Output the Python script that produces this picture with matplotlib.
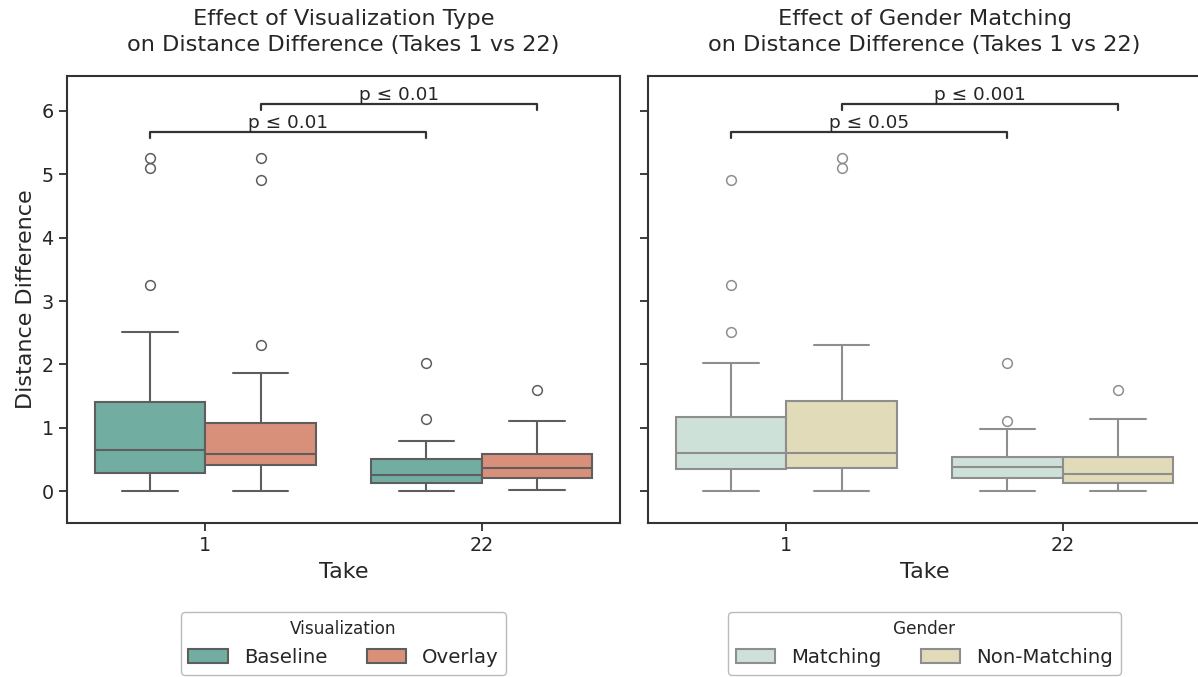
import matplotlib
matplotlib.use("Agg")
import matplotlib.pyplot as plt
from matplotlib.patches import Patch
import seaborn as sns

sns.set_theme(style="ticks")
plt.rcParams['font.family'] = ['DejaVu Sans']

takes = ["1", "22"]

# box stats: [q1, median, q3, whisker low, whisker high]
baseline_stats = [[0.295, 0.646, 1.41, 0.0, 2.51], [0.126, 0.257, 0.504, 0.0, 0.80]]
baseline_fliers = [[5.25, 5.10, 3.25], [2.03, 1.14]]
overlay_stats = [[0.41, 0.594, 1.08, 0.0, 1.87], [0.215, 0.368, 0.594, 0.02, 1.11]]
overlay_fliers = [[5.26, 4.91, 2.31], [1.59]]

matching_stats = [[0.352, 0.604, 1.17, 0.0, 2.02], [0.205, 0.383, 0.546, 0.0, 0.98]]
matching_fliers = [[4.91, 3.25, 2.51], [2.03, 1.11]]
nonmatching_stats = [[0.373, 0.61, 1.42, 0.0, 2.31], [0.137, 0.273, 0.546, 0.0, 1.135]]
nonmatching_fliers = [[5.25, 5.10], [1.59]]

vis_labels = ["Baseline", "Overlay"]
gender_labels = ["Matching", "Non-Matching"]

# significance brackets: (x start, x end, height, label)
vis_brackets = [(-0.2, 0.8, 5.66, "p \u2264 0.01"), (0.2, 1.2, 6.10, "p \u2264 0.01")]
gender_brackets = [(-0.2, 0.8, 5.66, "p \u2264 0.05"), (0.2, 1.2, 6.10, "p \u2264 0.001")]

vis_colors = ["#72ada2", "#d9907b"]
gender_colors = ["#cde1d9", "#e1dbba"]


def make_stats(stats, fliers):
    out = []
    for s, f in zip(stats, fliers):
        out.append(dict(q1=s[0], med=s[1], q3=s[2], whislo=s[3], whishi=s[4], fliers=f))
    return out


def draw_boxes(ax, groups, colors, linecolor):
    for i, (stats, fliers) in enumerate(groups):
        offset = -0.2 if i == 0 else 0.2
        positions = [k + offset for k in range(len(takes))]
        ax.bxp(make_stats(stats, fliers), positions=positions, widths=0.4,
               patch_artist=True, capwidths=0.2, manage_ticks=False,
               boxprops=dict(facecolor=colors[i], edgecolor=linecolor, linewidth=1.5),
               medianprops=dict(color=linecolor, linewidth=1.5),
               whiskerprops=dict(color=linecolor, linewidth=1.5),
               capprops=dict(color=linecolor, linewidth=1.5),
               flierprops=dict(marker='o', markerfacecolor='none',
                               markeredgecolor=linecolor, markersize=7, markeredgewidth=1.1))


def draw_brackets(ax, brackets):
    for x1, x2, h, label in brackets:
        ax.plot([x1, x1, x2, x2], [h - 0.09, h, h, h - 0.09], color="#333333", lw=1.6)
        ax.text((x1 + x2) / 2, h + 0.01, label, ha='center', va='bottom', fontsize=13.3,
                color="#262626")


fig = plt.figure(figsize=(11.98, 6.77), dpi=100)
ax1 = fig.add_axes([0.0559, 0.2275, 0.4616, 0.6603])
ax2 = fig.add_axes([0.5409, 0.2275, 0.4616, 0.6603], sharey=ax1)

panels = [
    (ax1, [(baseline_stats, baseline_fliers), (overlay_stats, overlay_fliers)], vis_colors,
     "#5e5e5e", vis_labels, "Visualization", vis_brackets,
     "Effect of Visualization Type\non Distance Difference (Takes 1 vs 22)"),
    (ax2, [(matching_stats, matching_fliers), (nonmatching_stats, nonmatching_fliers)],
     gender_colors, "#8e8e8e", gender_labels, "Gender", gender_brackets,
     "Effect of Gender Matching\non Distance Difference (Takes 1 vs 22)"),
]

for ax, groups, colors, lc, labels, ltitle, brackets, title in panels:
    draw_boxes(ax, groups, colors, lc)
    draw_brackets(ax, brackets)
    ax.set_xlim(-0.5, 1.5)
    ax.set_xticks(range(len(takes)))
    ax.set_xticklabels(takes)
    ax.set_xlabel("Take", fontsize=16, labelpad=5)
    ax.tick_params(labelsize=13.8, length=6, width=1.25)
    for sp in ax.spines.values():
        sp.set_linewidth(1.5)
        sp.set_color("#333333")
    ax.set_title(title, fontsize=16.2, pad=18, linespacing=1.35)
    handles = [Patch(facecolor=c, edgecolor=lc, linewidth=1.5) for c in colors]
    leg = ax.legend(handles, labels, title=ltitle, ncol=2, loc='upper center',
                    bbox_to_anchor=(0.5, -0.178), fontsize=14.2, title_fontsize=12.2,
                    frameon=True, columnspacing=2.0)
    leg.get_frame().set_edgecolor("#aaaaaa")

ax1.set_ylim(-0.5, 6.55)
ax1.set_yticks(range(0, 7))
ax1.set_ylabel("Distance Difference", fontsize=16)
plt.setp(ax2.get_yticklabels(), visible=False)

fig.savefig("out.png", dpi=100)
